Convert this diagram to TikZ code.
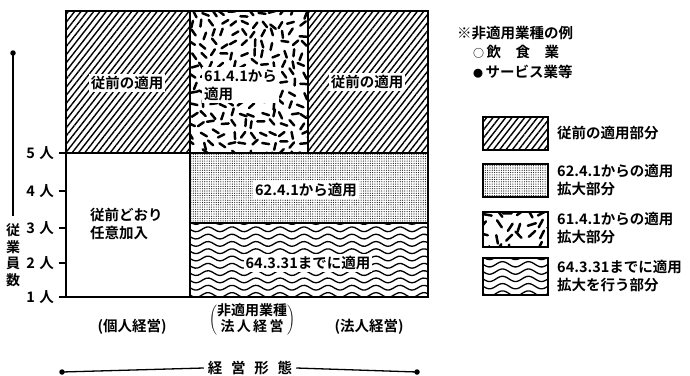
\documentclass[tikz,border=0pt]{standalone}
\usepackage{fontspec}
\setmainfont{Noto Sans CJK JP}[BoldFont={Noto Sans CJK JP Bold}]
\usetikzlibrary{patterns.meta}

\tikzset{
  outline/.style={draw, line width=1.4pt},
  lbl/.style={fill=white, inner sep=2pt},
  plain/.style={inner sep=1pt},
  diag/.style={pattern={Lines[angle=52,distance=5pt,line width=1.4pt]}},
  dotfill/.style={pattern={Dots[distance=2.3pt,radius=0.6pt]}, pattern color=black!90},
  dashstroke/.style={line width=2.5pt, line cap=round},
  wavestroke/.style={line width=1.3pt},
  tickline/.style={line width=1.3pt},
  axisline/.style={line width=1.3pt},
  enddot/.style={circle, fill, inner sep=0pt, minimum size=5.5pt},
  twoline/.style={align=left, font=\fontsize{14.5}{18}\selectfont\bfseries},
}

\newcommand\dashfield[7]{%
  \begin{scope}
  \clip (#1,#2) rectangle (#3,#4);
  \pgfmathsetseed{#7}
  \pgfmathtruncatemacro\dfnx{(#3-#1)/#5+1}
  \pgfmathtruncatemacro\dfny{(#4-#2)/#5+1}
  \pgfmathsetmacro\dfhl{#6/2}
  \foreach \i in {0,...,\dfnx}{
    \foreach \j in {0,...,\dfny}{
      \pgfmathsetmacro\dfpx{#1+3+\i*#5+rand*#5*0.28}
      \pgfmathsetmacro\dfpy{#2+3+\j*#5+rand*#5*0.28}
      \pgfmathsetmacro\dfang{rnd*180}
      \draw[dashstroke] (\dfpx,\dfpy) ++(\dfang:\dfhl) -- ++(\dfang+180:#6);
    }}
  \end{scope}}

\newcommand\wavefield[7]{% x0 y0 x1 y1 spacing period amplitude
  \begin{scope}
  \clip (#1,#2) rectangle (#3,#4);
  \pgfmathtruncatemacro\wfnr{(#4-#2)/#5+2}
  \foreach \k in {0,...,\wfnr}{
    \pgfmathsetmacro\wfy{#2-1+\k*#5}
    \draw[wavestroke] plot[domain=#1-3:#3+3, samples=90, smooth]
      (\x,{\wfy+#7*sin((\x-#1)/#6*360)});
  }
  \end{scope}}

\begin{document}
\begin{tikzpicture}[x=1pt,y=-1pt, font=\fontsize{14.5}{16}\selectfont\bfseries]
\useasboundingbox (0,0) rectangle (690,375);

% ---------- main chart fills ----------
\fill[diag] (66,11) rectangle (190,153);
\fill[diag] (308,11) rectangle (428,153);
\dashfield{190}{11}{308}{153}{10}{7}{11}
\fill[dotfill] (190,153) rectangle (428,223);
\wavefield{190}{223}{428}{297}{7.3}{24}{2.4}

% ---------- outlines ----------
\draw[outline] (66,11) rectangle (190,153);
\draw[outline] (190,11) rectangle (308,153);
\draw[outline] (308,11) rectangle (428,153);
\draw[outline] (190,153) rectangle (428,223);
\draw[outline] (190,223) rectangle (428,297);
\draw[outline] (66,153) -- (66,297);
\draw[outline] (59,297) -- (428,297);
\draw[outline] (59,153) -- (66,153);

% ticks and labels
\foreach \yy/\n/\nm in {153/5/t5,191/4/t4,228/3/t3,263/2/t2,297/1/t1}{
  \draw[tickline] (59,\yy) -- (66,\yy);
  \node[plain, anchor=east] (\nm) at (55,\yy) {\n\hspace{0.3em}人};
}

% ---------- chart labels ----------
\node[lbl] (a1) at (127,83) {従前の適用};
\node[lbl, twoline, anchor=west] (b1) at (202,85) {61.4.1から\\適用};
\node[lbl] (c1) at (367,82) {従前の適用};
\node[lbl] (d1) at (306,190) {62.4.1から適用};
\node[lbl] (e1) at (308,263) {64.3.31までに適用};
\node[plain, twoline, anchor=west] (l1) at (89,224) {従前どおり\\任意加入};

% ---------- x categories ----------
\node[plain] (x1) at (132,327) {(個人経営)};
\node[plain] (x2) at (252,320) {$\left(\vcenter{\hbox{\fontsize{14}{14}\selectfont\bfseries\begin{tabular}{@{}c@{}}非適用業種\\法\,人\,経\,営\end{tabular}}}\right)$};
\node[plain] (x3) at (369,327) {(法人経営)};

% ---------- axes ----------
\node[enddot] (vtop) at (13,53) {};
\coordinate (vbot) at (13,216);
\draw[axisline] (vtop.center) -- (vbot);
\node[plain, align=center, font=\fontsize{14}{16.5}\selectfont\bfseries] (vlab) at (13,255) {従\\業\\員\\数};

\node[enddot] (hl) at (62,372) {};
\node[enddot] (hr) at (417,372) {};
\node[fill=white, inner xsep=4pt, inner ysep=1pt] (hlab) at (250,368) {経\hspace{0.6em}営\hspace{0.6em}形\hspace{0.6em}態};
\draw[axisline] (hl.center) -- (hlab.west);
\draw[axisline] (hlab.east) -- (hr.center);

% ---------- legend ----------
\node[plain, anchor=west] (n1) at (456,33) {※非適用業種の例};
\node[plain, anchor=west] (n2) at (472,52) {{\fontsize{11}{11}\selectfont ○}\,飲\hspace{1em}食\hspace{1em}業};
\node[plain, anchor=west] (n3) at (472,72) {{\fontsize{10}{10}\selectfont ●}\,サービス業等};

\fill[diag] (483,117) rectangle (548,150);
\draw[outline] (483,117) rectangle (548,150);
\fill[dotfill] (483,164) rectangle (548,197);
\draw[outline] (483,164) rectangle (548,197);
\dashfield{483}{212}{548}{247}{11}{8.5}{5}
\draw[outline] (483,212) rectangle (548,247);
\wavefield{483}{258}{548}{295}{7.3}{26}{2.6}
\draw[outline] (483,258) rectangle (548,295);

\node[plain, anchor=west] (g1) at (556,133) {従前の適用部分};
\node[plain, anchor=west, twoline] (g2) at (556,180) {62.4.1からの適用\\拡大部分};
\node[plain, anchor=west, twoline] (g3) at (556,228) {61.4.1からの適用\\拡大部分};
\node[plain, anchor=west, twoline] (g4) at (556,276) {64.3.31までに適用\\拡大を行う部分};
\end{tikzpicture}
\end{document}
